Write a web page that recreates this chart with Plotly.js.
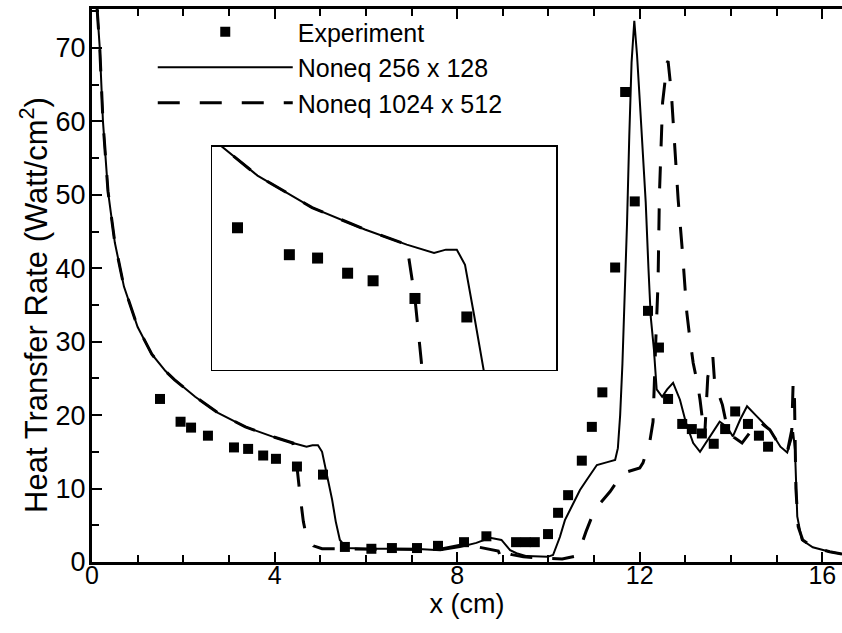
<!DOCTYPE html>
<html>
<head>
<meta charset="utf-8">
<script src="https://cdn.plot.ly/plotly-3.0.1.min.js"></script>
<style>html,body{margin:0;padding:0;background:#fff;}#chart{width:842px;height:633px;}</style>
</head>
<body>
<div id="chart"></div>
<script>
// Experimental data (x in cm, heat transfer rate in Watt/cm^2)
var expX = [1.49, 1.94, 2.17, 2.54, 3.11, 3.42, 3.75, 4.03, 4.49, 5.06, 5.54, 6.12, 6.57, 7.12, 7.58, 8.15, 8.64, 9.29, 9.50, 9.70, 9.99, 10.21, 10.43, 10.73, 10.95, 11.18, 11.46, 11.68, 11.89, 12.18, 12.42, 12.62, 12.93, 13.14, 13.36, 13.62, 13.87, 14.09, 14.37, 14.61, 14.81];
var expY = [22.2, 19.1, 18.3, 17.2, 15.6, 15.4, 14.5, 14.05, 13.0, 11.9, 2.05, 1.8, 1.9, 1.9, 2.2, 2.7, 3.5, 2.7, 2.7, 2.7, 3.8, 6.7, 9.1, 13.8, 18.4, 23.1, 40.1, 64.0, 49.1, 34.2, 29.2, 22.2, 18.8, 18.1, 17.5, 16.1, 18.1, 20.5, 18.8, 17.2, 15.7];

// Noneq 256 x 128 (solid)
var coarseX = [0.11, 0.17, 0.24, 0.35, 0.5, 0.7, 1.0, 1.31, 1.61, 1.81, 2.26, 2.76, 3.36, 3.94, 4.4, 4.7, 4.83, 4.95, 5.04, 5.14, 5.26, 5.34, 5.43, 5.58, 6.05, 7.05, 7.63, 8.06, 8.42, 8.72, 8.97, 9.16, 9.3, 9.52, 9.98, 10.1, 10.25, 10.36, 10.54, 10.69, 10.84, 11.06, 11.29, 11.46, 11.52, 11.57, 11.62, 11.67, 11.72, 11.77, 11.82, 11.88, 11.94, 12.0, 12.07, 12.13, 12.19, 12.24, 12.31, 12.37, 12.49, 12.6, 12.73, 12.88, 13.01, 13.17, 13.32, 13.49, 13.75, 13.91, 14.04, 14.2, 14.35, 14.57, 14.85, 15.08, 15.23, 15.34, 15.36, 15.4, 15.45, 15.55, 15.79, 16.16, 16.43];
var coarseY = [75.5, 70, 60, 50.5, 43.5, 37.5, 32, 28.3, 26, 24.8, 22.5, 20.3, 18.4, 17.1, 16.2, 15.7, 15.9, 15.9, 15.0, 12.0, 8.5, 5.5, 3.0, 1.9, 1.8, 1.8, 1.6, 2.05, 2.6, 3.3, 3.0, 1.6, 1.2, 0.8, 0.7, 0.95, 3.4, 5.7, 8.0, 9.8, 11.2, 13.2, 13.6, 13.9, 15.5, 20, 27, 36, 46, 58, 68, 73.7, 69, 62.8, 55, 49, 40, 33.4, 28.9, 23.5, 22.5, 23.5, 24.4, 22.1, 19.0, 16.2, 15.0, 16.6, 19.1, 18.4, 17.1, 19.4, 21.2, 19.8, 18.0, 15.7, 14.9, 17.1, 17.7, 15.3, 6.2, 3.0, 2.0, 1.4, 1.1];

// Noneq 1024 x 512 (dashed)
var fineX = [0.11, 0.17, 0.24, 0.35, 0.5, 0.7, 1.0, 1.31, 1.61, 1.81, 2.26, 2.76, 3.36, 3.94, 4.4, 4.49, 4.55, 4.63, 4.7, 4.85, 5.04, 6.0, 7.0, 7.6, 8.16, 8.48, 8.9, 8.98, 9.05, 9.2, 9.45, 10.0, 10.3, 10.6, 10.68, 10.82, 11.01, 11.35, 11.63, 12.0, 12.07, 12.22, 12.29, 12.35, 12.4, 12.43, 12.5, 12.6, 12.62, 12.69, 12.77, 12.84, 12.93, 13.03, 13.1, 13.17, 13.27, 13.32, 13.38, 13.42, 13.49, 13.6, 13.64, 13.81, 13.91, 14.06, 14.24, 14.4, 14.6, 14.85, 15.08, 15.23, 15.33, 15.36, 15.39, 15.42, 15.47, 15.57, 15.79, 16.16, 16.43];
var fineY = [75.5, 70, 60, 50.5, 43.5, 37.5, 32, 28.3, 26, 24.8, 22.5, 20.3, 18.4, 17.1, 16.2, 13.0, 9.5, 5.5, 3.4, 2.2, 1.8, 1.75, 1.75, 1.7, 2.4, 2.0, 1.5, 0.3, 1.3, 1.0, 0.7, 0.5, 0.4, 0.8, 1.6, 4.1, 7.1, 9.6, 12.1, 12.8, 13.5, 16.4, 19.1, 30, 38, 50, 62.6, 68, 68.2, 64, 56, 49.4, 42.6, 34, 30.3, 27.1, 24.1, 22.1, 19.0, 17.0, 25.2, 28, 24.4, 21.4, 18.4, 17.0, 16.2, 17.5, 19.2, 18.0, 15.7, 14.9, 18, 24.5, 22, 10, 4.8, 3.0, 2.0, 1.4, 1.1];

var xTickVals = [0, 4, 8, 12, 16];
var yTickVals = [0, 10, 20, 30, 40, 50, 60, 70];
var yTitle = 'Heat Transfer Rate (Watt/cm<sup>2</sup>)';

var dashPattern = '22px,20px';

var traces = [
  {x: expX, y: expY, type: 'scatter', mode: 'markers', name: 'Experiment',
   marker: {symbol: 'square', size: 10, color: '#000'}, xaxis: 'x', yaxis: 'y'},
  {x: coarseX, y: coarseY, type: 'scatter', mode: 'lines', name: 'Noneq 256 x 128',
   line: {color: '#000', width: 2}, xaxis: 'x', yaxis: 'y'},
  {x: fineX, y: fineY, type: 'scatter', mode: 'lines', name: 'Noneq 1024 x 512',
   line: {color: '#000', width: 3, dash: dashPattern}, xaxis: 'x', yaxis: 'y'},
  {x: expX, y: expY, type: 'scatter', mode: 'markers', showlegend: false,
   marker: {symbol: 'square', size: 11, color: '#000'}, xaxis: 'x2', yaxis: 'y2'},
  {x: coarseX, y: coarseY, type: 'scatter', mode: 'lines', showlegend: false,
   line: {color: '#000', width: 2}, xaxis: 'x2', yaxis: 'y2'},
  {x: fineX, y: fineY, type: 'scatter', mode: 'lines', showlegend: false,
   line: {color: '#000', width: 3, dash: dashPattern}, xaxis: 'x2', yaxis: 'y2'}
];

var layout = {
  width: 842, height: 633,
  margin: {l: 92, r: 0, t: 9, b: 71, pad: 0},
  paper_bgcolor: '#fff', plot_bgcolor: '#fff',
  font: {family: 'Liberation Sans, Arial, sans-serif', color: '#000', size: 24},
  showlegend: true,
  legend: {x: 0.081, y: 1.0, xanchor: 'left', yanchor: 'top', bgcolor: 'rgba(0,0,0,0)',
           borderwidth: 0, itemwidth: 135, font: {size: 25, family: 'Liberation Sans, Arial, sans-serif'}},
  xaxis: {
    domain: [0, 1], range: [0, 16.43], tickvals: xTickVals, ticktext: xTickVals.map(String),
    ticks: 'inside', ticklen: 10, tickwidth: 2, tickcolor: '#000',
    minor: {dtick: 1, ticks: 'inside', ticklen: 7, tickwidth: 2, tickcolor: '#000'},
    showline: true, linewidth: 3, linecolor: '#000', mirror: 'ticks',
    showgrid: false, zeroline: false, ticklabelstandoff: -11,
    tickfont: {size: 25},
    title: {text: 'x (cm)', font: {size: 27}, standoff: 6}
  },
  yaxis: {
    domain: [0, 1], range: [0, 75.3], tickvals: yTickVals, ticktext: yTickVals.map(String),
    ticks: 'inside', ticklen: 10, tickwidth: 2, tickcolor: '#000',
    minor: {dtick: 5, ticks: 'inside', ticklen: 7, tickwidth: 2, tickcolor: '#000'},
    showline: true, linewidth: 3, linecolor: '#000', mirror: false,
    showgrid: false, zeroline: false, ticklabelstandoff: -2,
    tickfont: {size: 27}
  },
  xaxis2: {
    domain: [0.16, 0.6187], range: [2.26, 6.04], anchor: 'y2',
    showline: true, linewidth: 1.5, linecolor: '#000', mirror: true,
    showticklabels: false, ticks: '', showgrid: false, zeroline: false
  },
  yaxis2: {
    domain: [0.3472, 0.7505], range: [8.75, 22.0], anchor: 'x2',
    showline: true, linewidth: 1.5, linecolor: '#000', mirror: true,
    showticklabels: false, ticks: '', showgrid: false, zeroline: false
  },
  annotations: [{
    text: yTitle, textangle: -90, showarrow: false,
    xref: 'paper', yref: 'paper', x: -0.0773, y: 0.465, xanchor: 'center', yanchor: 'middle',
    font: {size: 31}
  }]
};

Plotly.newPlot('chart', traces, layout, {staticPlot: true, displayModeBar: false});
</script>
</body>
</html>
